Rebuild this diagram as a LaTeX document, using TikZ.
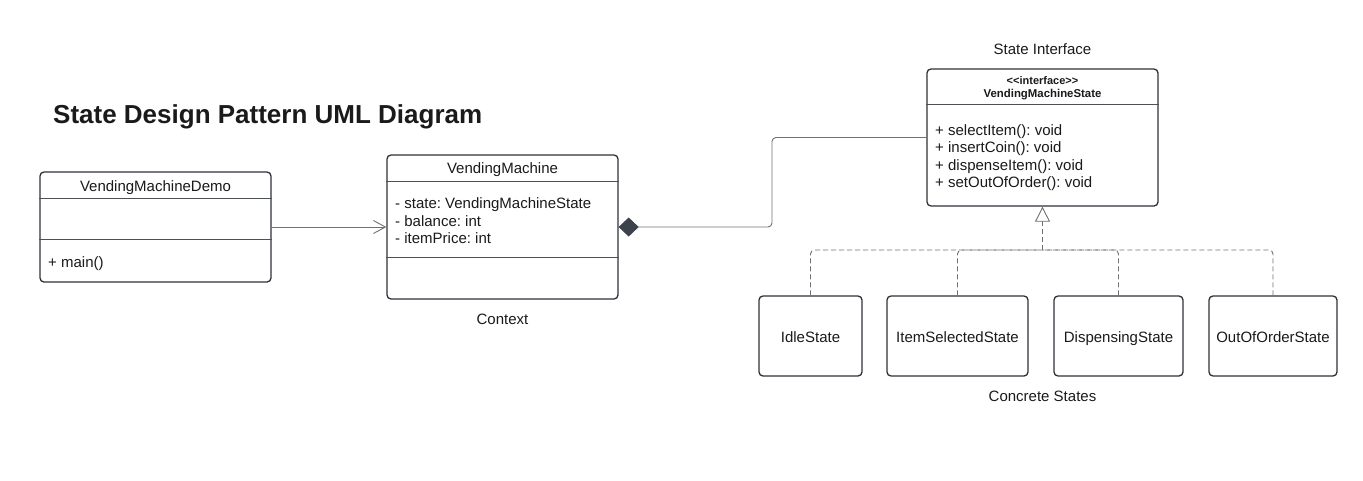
\documentclass[tikz,border=0pt]{standalone}
\usepackage{fontspec}
\setmainfont{Liberation Sans}
\usetikzlibrary{arrows.meta,calc}
\definecolor{boxline}{HTML}{2E3238}
\definecolor{ink}{HTML}{1A1A1A}
\definecolor{linkgray}{HTML}{707070}
\definecolor{diamfill}{HTML}{3D434B}
\frenchspacing

\begin{document}
\begin{tikzpicture}[x=1pt,y=-1pt,
    umlbox/.style={draw=boxline, line width=1.3pt, rounded corners=4pt, fill=white, inner sep=0pt},
    sepline/.style={draw=boxline!85, line width=1.2pt},
    label/.style={font=\fontsize{15}{18}\selectfont, text=ink, inner sep=0pt, anchor=base},
    member/.style={label, anchor=base west},
    link/.style={draw=linkgray, line width=0.9pt},
    realize/.style={link, dash pattern=on 5pt off 3pt, rounded corners=4pt}]
        \useasboundingbox (0,0) rectangle (1363,480);

        % title
        \node (title) [anchor=base west, inner sep=0pt, text=ink, font=\fontsize{26}{30}\selectfont\bfseries] at (53,123) {State Design Pattern UML Diagram};

        % classes
        \node (demo) [umlbox, minimum width=231pt, minimum height=110pt] at (155.5,227) {};
        \node (vm) [umlbox, minimum width=231pt, minimum height=144pt] at (502.5,227) {};
        \node (iface) [umlbox, minimum width=231pt, minimum height=137pt] at (1042.5,137.5) {};

        \draw[sepline] ($(demo.north west)+(0,27)$) -- ($(demo.north east)+(0,27)$);
        \draw[sepline] ($(demo.north west)+(0,68)$) -- ($(demo.north east)+(0,68)$);
        \draw[sepline] ($(vm.north west)+(0,27)$) -- ($(vm.north east)+(0,27)$);
        \draw[sepline] ($(vm.north west)+(0,103)$) -- ($(vm.north east)+(0,103)$);
        \draw[sepline] ($(iface.north west)+(0,36)$) -- ($(iface.north east)+(0,36)$);

        \node (demoName) [label] at (155.5,191.5) {VendingMachineDemo};
        \node (demoMain) [member] at (48,267.5) {+ main()};

        \node (vmName) [label] at (502.5,173.5) {VendingMachine};
        \foreach \txt [count=\k] in {- state: VendingMachineState, - balance: int, - itemPrice: int}
            \node (vmAttr\k) [member] at (395,191+17.5*\k) {\txt};

        \node (ifaceTag) [label, font=\fontsize{11}{13}\selectfont\bfseries] at (1042.5,84.5) {<{}<interface>{}>};
        \node (ifaceName) [label, font=\fontsize{11.4}{13}\selectfont\bfseries] at (1042.5,97.5) {VendingMachineState};
        \foreach \txt [count=\k] in {+ selectItem(): void, + insertCoin(): void, + dispenseItem(): void, + setOutOfOrder(): void}
            \node (ifaceOp\k) [member] at (935,118+17.4*\k) {\txt};

        % concrete states
        \foreach \name/\cx/\w/\txt in {idle/810.5/103/IdleState, selected/957.5/141/ItemSelectedState, dispensing/1118.5/129/DispensingState, outoforder/1273/128/OutOfOrderState} {
            \node (\name) [umlbox, minimum width=\w pt, minimum height=80pt] at (\cx,336) {};
            \node (\name Text) [label] at (\cx,342.5) {\txt};
        }

        % group labels
        \node (ifaceLabel) [label] at (1042.5,54.5) {State Interface};
        \node (vmLabel) [label] at (502.5,324.5) {Context};
        \node (statesLabel) [label] at (1042.5,401.5) {Concrete States};

        % connectors
        \coordinate (bend) at (772,0);
        \coordinate (hub) at (1042.5,250);

        \draw[link, -{Straight Barb[length=12pt,width=13pt,line width=0.9pt]}] (demo) -- (vm);
        \draw[link, rounded corners=4pt, {Diamond[length=20pt,width=19pt,color=diamfill,fill=diamfill]}-] (vm.east) -| (bend |- iface.west) -- (iface.west);

        \foreach \s in {idle, selected, dispensing, outoforder}
            \draw[realize] (\s.north) |- (hub);
        \draw[realize, -{Triangle[open,length=15pt,width=15pt,fill=white,line width=0.9pt]}] (hub) -- (iface.south);
\end{tikzpicture}
\end{document}
